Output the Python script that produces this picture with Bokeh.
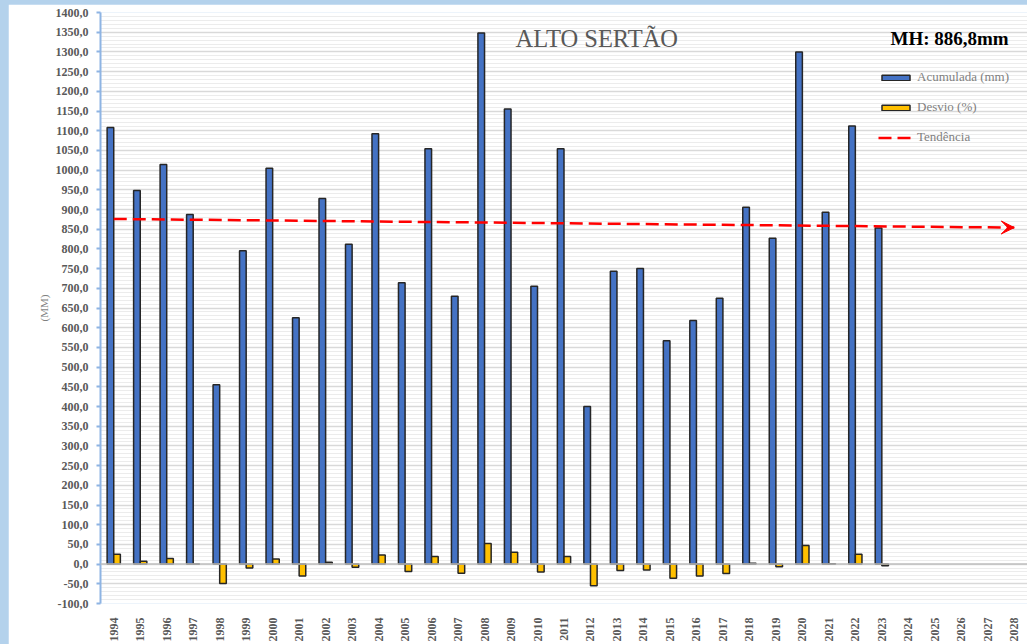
import math
from bokeh.plotting import figure
from bokeh.models import (Range1d, SingleIntervalTicker, FixedTicker, CustomJSTickFormatter,
                          Span, Label, Legend, LegendItem, Arrow, VeeHead, ColumnDataSource)
from bokeh.transform import dodge
from bokeh.embed import file_html
from bokeh.resources import INLINE

# ---- data ----
years = list(range(1994, 2024))
acumulada = [1108, 948, 1014, 887, 455, 795, 1005, 625, 928, 812,
             1092, 714, 1054, 680, 1348, 1155, 705, 1054, 400, 743,
             750, 567, 618, 675, 906, 827, 1300, 893, 1112, 853]
desvio = [25, 7, 14, 0, -49, -10, 13, -30, 5, -8,
          23, -19, 19, -23, 52, 30, -20, 19, -55, -16,
          -15, -36, -30, -24, 2, -7, 47, 1, 25, -4]
tick_years = list(range(1994, 2029))
trend_x = [1994, 2028]
trend_y = [876, 854]
title_text = "ALTO SERTÃO"
mh_text = "MH: 886,8mm"
legend_labels = ["Acumulada (mm)", "Desvio (%)", "Tendência"]

src = ColumnDataSource(dict(year=years, acc=acumulada, dev=desvio))

GRAY = "#595959"
SERIF = "Liberation Serif"

p = figure(width=1019, height=640, output_backend="svg", toolbar_location=None,
           x_range=Range1d(1993.5, 2028.5), y_range=Range1d(-100, 1400),
           min_border_left=92, min_border_top=8, min_border_right=0, min_border_bottom=10)
p.background_fill_color = "white"
p.border_fill_color = "white"
p.outline_line_color = None

# grid
p.xgrid.grid_line_color = None
p.ygrid.grid_line_color = "#D9D9D9"
p.ygrid.grid_line_width = 1.5
p.ygrid.minor_grid_line_color = "#ECECEC"
p.ygrid.minor_grid_line_width = 1

# y axis
p.yaxis.ticker = SingleIntervalTicker(interval=50, num_minor_ticks=5)
p.yaxis.formatter = CustomJSTickFormatter(code="return tick.toFixed(1).replace('.', ',');")
p.yaxis.axis_line_color = "#8EB4E3"
p.yaxis.axis_line_width = 2
p.yaxis.major_tick_line_color = "#8EB4E3"
p.yaxis.major_tick_line_width = 2
p.yaxis.major_tick_out = 4
p.yaxis.major_tick_in = 0
p.yaxis.minor_tick_line_color = None
p.yaxis.major_label_text_font = SERIF
p.yaxis.major_label_text_font_style = "bold"
p.yaxis.major_label_text_font_size = "12px"
p.yaxis.major_label_text_color = GRAY
p.yaxis.major_label_standoff = 8
p.yaxis.axis_label = "(MM)"
p.yaxis.axis_label_text_font = SERIF
p.yaxis.axis_label_text_font_style = "normal"
p.yaxis.axis_label_text_font_size = "11px"
p.yaxis.axis_label_text_color = "#7F7F7F"
p.yaxis.axis_label_standoff = 3

# x axis
p.xaxis.ticker = FixedTicker(ticks=tick_years)
p.xaxis.formatter = CustomJSTickFormatter(code="return tick.toFixed(0);")
p.xaxis.major_label_orientation = math.pi / 2
p.xaxis.axis_line_color = None
p.xaxis.major_tick_line_color = None
p.xaxis.minor_tick_line_color = None
p.xaxis.major_label_text_font = SERIF
p.xaxis.major_label_text_font_style = "bold"
p.xaxis.major_label_text_font_size = "12px"
p.xaxis.major_label_text_color = GRAY
p.xaxis.major_label_standoff = 8

# zero line
p.add_layout(Span(location=0, dimension="width", line_color="#BFBFBF", line_width=1.5))

# bars
r_acc = p.vbar(x=dodge("year", -0.125), top="acc", width=0.25, source=src,
               fill_color="#4472C4", line_color="#262626", line_width=1.5)
r_dev = p.vbar(x=dodge("year", 0.125), top="dev", bottom=0, width=0.25, source=src,
               fill_color="#FFC000", line_color="#262626", line_width=1.5)

# trend line with arrow head
r_tr = p.line(trend_x, trend_y, line_color="#FF0000", line_width=2.5, line_dash="13 6")
p.add_layout(Arrow(end=VeeHead(size=13, fill_color="#FF0000", line_color="#FF0000", line_width=1),
                   x_start=trend_x[0], y_start=trend_y[0], x_end=trend_x[1], y_end=trend_y[1],
                   line_alpha=0))

# legend
legend = Legend(items=[LegendItem(label=legend_labels[0], renderers=[r_acc]),
                       LegendItem(label=legend_labels[1], renderers=[r_dev]),
                       LegendItem(label=legend_labels[2], renderers=[r_tr])],
                location=(778, 458), orientation="vertical",
                glyph_width=35, glyph_height=7, label_height=7, spacing=14,
                label_standoff=4, padding=0, margin=0,
                border_line_color=None, background_fill_alpha=0,
                label_text_font=SERIF, label_text_font_size="13px", label_text_color="#7F7F7F")
p.add_layout(legend)

# titles
p.add_layout(Label(x=415, y=565, x_units="screen", y_units="screen", text=title_text,
                   text_font=SERIF, text_font_size="24.5px", text_color=GRAY,
                   text_baseline="alphabetic"))
p.add_layout(Label(x=790, y=565, x_units="screen", y_units="screen", text=mh_text,
                   text_font=SERIF, text_font_size="19px", text_font_style="bold",
                   text_color="#000000", text_baseline="alphabetic"))

html = file_html(p, INLINE)
style = ("<style>html, body { background-color: #B4D2EC !important; } "
         "body { padding: 4px 0 0 8px !important; margin: 0 !important; "
         "box-sizing: border-box; overflow: hidden; }</style>")
html = html.replace("</head>", style + "</head>", 1)
open("out.html", "w").write(html)
